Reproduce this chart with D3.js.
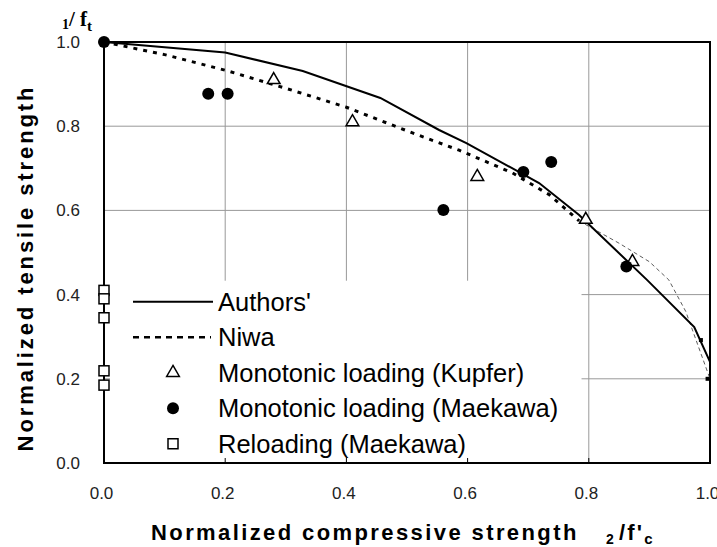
<!DOCTYPE html>
<html>
<head>
<meta charset="utf-8">
<script src="https://cdn.jsdelivr.net/npm/d3@7"></script>
<style>
  body { margin: 0; background: #fff; }
  svg { display: block; font-family: Arial, "Liberation Sans", sans-serif; }
</style>
</head>
<body>
<div class="canvas"></div>
<script>
// data
const authorsX = [0, 0.2, 0.328, 0.456, 0.553, 0.598, 0.718, 0.784, 0.896, 0.974, 1.0];
const authorsY = [1.0, 0.975, 0.931, 0.867, 0.791, 0.76, 0.665, 0.589, 0.435, 0.323, 0.24];

const niwaX = [0, 0.1, 0.2, 0.3, 0.4, 0.509, 0.586, 0.674, 0.735, 0.784];
const niwaY = [1.0, 0.97, 0.933, 0.89, 0.845, 0.784, 0.743, 0.689, 0.637, 0.575];
// thin continuation of Niwa near the compression axis
const niwaTailX = [0.784, 0.85, 0.9, 0.932, 0.96, 0.993, 1.0];
const niwaTailY = [0.575, 0.522, 0.478, 0.435, 0.36, 0.228, 0.2];

const kupferX = [0.28, 0.41, 0.616, 0.795, 0.872];
const kupferY = [0.91, 0.81, 0.68, 0.578, 0.478];

const maekawaX = [0.0, 0.172, 0.204, 0.56, 0.692, 0.738, 0.862];
const maekawaY = [1.0, 0.877, 0.877, 0.601, 0.691, 0.715, 0.467];

const reloadX = [0, 0, 0, 0, 0];
const reloadY = [0.41, 0.39, 0.345, 0.219, 0.185];

// tiny dark marks at the right edge
const edgeX = [0.985, 0.996];
const edgeY = [0.292, 0.2];

const ticks = [0, 0.2, 0.4, 0.6, 0.8, 1.0];
const legendLabels = ["Authors'", "Niwa", "Monotonic loading (Kupfer)", "Monotonic loading (Maekawa)", "Reloading (Maekawa)"];

const width = 717, height = 547;
const margin = { top: 42, right: 7, bottom: 84, left: 104 };
const graphWidth = width - margin.left - margin.right;
const graphHeight = height - margin.top - margin.bottom;

const svg = d3.select('.canvas')
    .append('svg')
    .attr('width', width)
    .attr('height', height);

const graph = svg.append('g')
    .attr('transform', `translate(${margin.left},${margin.top})`);

const x = d3.scaleLinear().domain([0, 1]).range([0, graphWidth]);
const y = d3.scaleLinear().domain([0, 1]).range([graphHeight, 0]);

// gridlines
graph.append('g')
    .selectAll('line')
    .data(ticks.slice(1, -1))
    .enter().append('line')
    .attr('x1', d => x(d)).attr('x2', d => x(d))
    .attr('y1', 0).attr('y2', graphHeight)
    .attr('stroke', '#999').attr('stroke-width', 1);

graph.append('g')
    .selectAll('line')
    .data(ticks.slice(1, -1))
    .enter().append('line')
    .attr('x1', 0).attr('x2', graphWidth)
    .attr('y1', d => y(d)).attr('y2', d => y(d))
    .attr('stroke', '#999').attr('stroke-width', 1);

// legend background hides the grid
const legend = graph.append('g');
legend.append('rect')
    .attr('x', 6).attr('y', y(0.433))
    .attr('width', x(0.788) - 6).attr('height', graphHeight - y(0.433) - 1)
    .attr('fill', '#fff');

// small inner ticks on the bottom axis
graph.append('g')
    .selectAll('line')
    .data(ticks.slice(1, -1))
    .enter().append('line')
    .attr('x1', d => x(d)).attr('x2', d => x(d))
    .attr('y1', graphHeight).attr('y2', graphHeight - 5)
    .attr('stroke', '#000').attr('stroke-width', 1);

// frame
graph.append('rect')
    .attr('width', graphWidth).attr('height', graphHeight)
    .attr('fill', 'none').attr('stroke', '#000').attr('stroke-width', 2);

// axes (labels only)
const xAxis = d3.axisBottom(x).tickValues(ticks).tickSize(0).tickPadding(24).tickFormat(d3.format('.1f'));
const yAxis = d3.axisLeft(y).tickValues(ticks).tickSize(0).tickPadding(24).tickFormat(d3.format('.1f'));

const xAxisGroup = graph.append('g').attr('transform', `translate(0,${graphHeight})`).call(xAxis);
const yAxisGroup = graph.append('g').call(yAxis);
[xAxisGroup, yAxisGroup].forEach(g => {
    g.select('.domain').remove();
    g.selectAll('text')
        .attr('font-size', 17)
        .attr('font-family', 'Arial, "Liberation Sans", sans-serif')
        .attr('fill', '#222');
});
xAxisGroup.selectAll('text').attr('dx', -3);

// curves
const line = d3.line().x(d => x(d[0])).y(d => y(d[1]));

graph.append('path')
    .datum(d3.zip(niwaTailX, niwaTailY))
    .attr('d', line)
    .attr('fill', 'none').attr('stroke', '#333')
    .attr('stroke-width', 0.8).attr('stroke-dasharray', '4,3');

graph.append('path')
    .datum(d3.zip(niwaX, niwaY))
    .attr('d', line)
    .attr('fill', 'none').attr('stroke', '#000')
    .attr('stroke-width', 3).attr('stroke-dasharray', '4,6');

graph.append('path')
    .datum(d3.zip(authorsX, authorsY))
    .attr('d', line)
    .attr('fill', 'none').attr('stroke', '#000')
    .attr('stroke-width', 2);

graph.append('g')
    .selectAll('rect')
    .data(d3.zip(edgeX, edgeY))
    .enter().append('rect')
    .attr('x', d => x(d[0]) - 2).attr('y', d => y(d[1]) - 2)
    .attr('width', 4).attr('height', 4)
    .attr('fill', '#000');

// markers
const tri = d3.symbol().type(d3.symbolTriangle).size(70);
graph.append('g')
    .selectAll('path')
    .data(d3.zip(kupferX, kupferY))
    .enter().append('path')
    .attr('d', tri)
    .attr('transform', d => `translate(${x(d[0])},${y(d[1])})`)
    .attr('fill', '#fff').attr('stroke', '#000').attr('stroke-width', 1.5);

graph.append('g')
    .selectAll('circle')
    .data(d3.zip(maekawaX, maekawaY))
    .enter().append('circle')
    .attr('cx', d => x(d[0])).attr('cy', d => y(d[1]))
    .attr('r', 6).attr('fill', '#000');

graph.append('g')
    .selectAll('rect')
    .data(d3.zip(reloadX, reloadY))
    .enter().append('rect')
    .attr('x', d => x(d[0]) - 5).attr('y', d => y(d[1]) - 5)
    .attr('width', 10).attr('height', 10)
    .attr('fill', '#fff').attr('stroke', '#000').attr('stroke-width', 1.5);

// legend entries
const rowY = i => y(0.383) + i * 35.5;
const sx = 29, tx = 114;
legend.append('line')
    .attr('x1', sx).attr('x2', sx + 80).attr('y1', rowY(0)).attr('y2', rowY(0))
    .attr('stroke', '#000').attr('stroke-width', 2);
legend.append('line')
    .attr('x1', sx).attr('x2', sx + 78).attr('y1', rowY(1)).attr('y2', rowY(1))
    .attr('stroke', '#000').attr('stroke-width', 2.5).attr('stroke-dasharray', '6,5');
legend.append('path')
    .attr('d', tri)
    .attr('transform', `translate(${sx + 40},${rowY(2)})`)
    .attr('fill', '#fff').attr('stroke', '#000').attr('stroke-width', 1.5);
legend.append('circle')
    .attr('cx', sx + 40).attr('cy', rowY(3)).attr('r', 6).attr('fill', '#000');
legend.append('rect')
    .attr('x', sx + 35).attr('y', rowY(4) - 5).attr('width', 10).attr('height', 10)
    .attr('fill', '#fff').attr('stroke', '#000').attr('stroke-width', 1.5);

legend.selectAll('text')
    .data(legendLabels)
    .enter().append('text')
    .attr('x', tx)
    .attr('y', (d, i) => rowY(i))
    .attr('dy', '0.36em')
    .attr('font-size', 25.5)
    .attr('fill', '#000')
    .text(d => d);

// axis titles
svg.append('text')
    .attr('x', 151).attr('y', 540)
    .attr('font-size', 22).attr('font-weight', 'bold')
    .attr('letter-spacing', 2.4)
    .text('Normalized compressive strength');

const xSub = svg.append('text')
    .attr('x', 606).attr('y', 540)
    .attr('font-size', 22).attr('font-weight', 'bold')
    .attr('letter-spacing', 2.2);
xSub.append('tspan').attr('font-size', 14).attr('dy', 4).text('2');
xSub.append('tspan').attr('dy', -4).attr('dx', 3).text("/f'");
xSub.append('tspan').attr('font-size', 15).attr('dy', 4).text('c');

svg.append('text')
    .attr('transform', 'translate(33,268) rotate(-90)')
    .attr('text-anchor', 'middle')
    .attr('font-size', 22).attr('font-weight', 'bold')
    .attr('letter-spacing', 2.9)
    .text('Normalized tensile strength');

const yHead = svg.append('text')
    .attr('x', 62).attr('y', 26)
    .attr('font-family', '"Liberation Serif", "Times New Roman", serif')
    .attr('font-weight', 'bold').attr('font-size', 21);
yHead.append('tspan').attr('font-size', 14).attr('dy', 3).text('1');
yHead.append('tspan').attr('dy', -3).text('/ f');
yHead.append('tspan').attr('font-size', 15).attr('dy', 5).text('t');
</script>
</body>
</html>
